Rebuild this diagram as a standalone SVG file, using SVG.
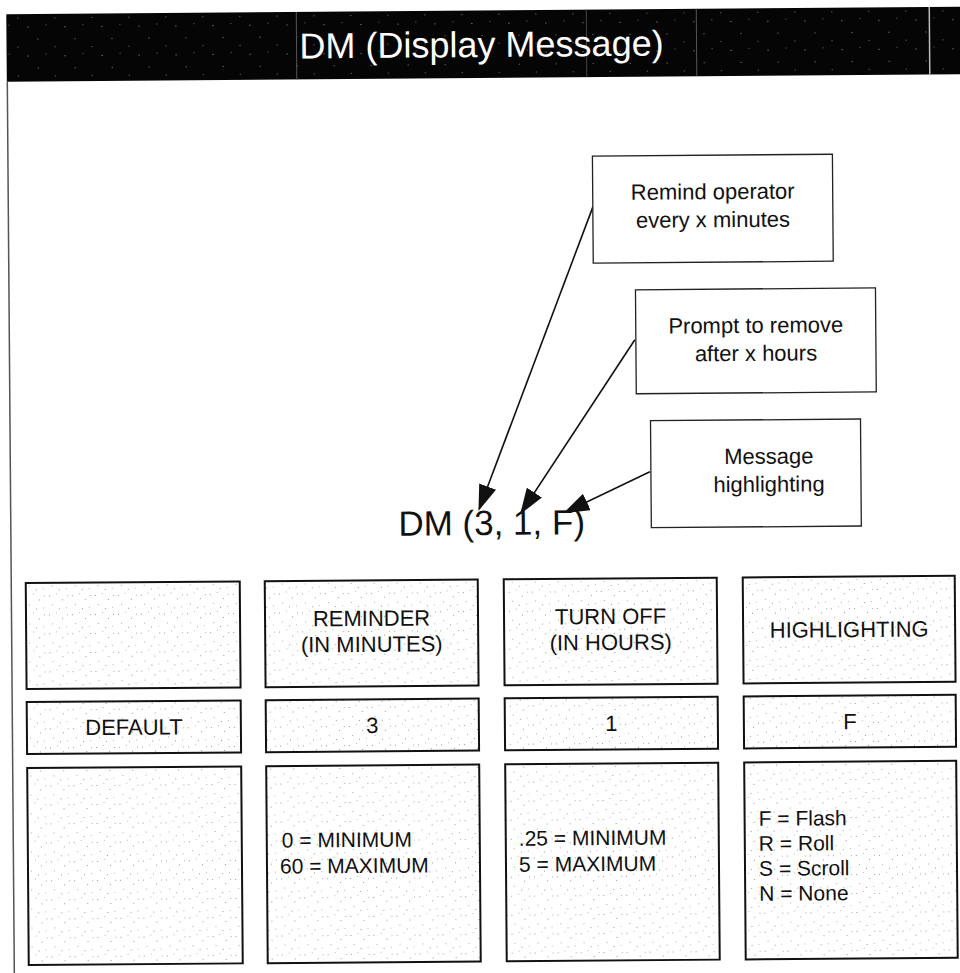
<svg xmlns="http://www.w3.org/2000/svg" width="960" height="973" viewBox="0 0 960 973">
<style>
  text { font-family: "Liberation Sans", Arial, sans-serif; fill: #111; }
  .title { font-size: 36px; fill: #fff; text-anchor: middle; }
  .big { font-size: 35px; }
  .call { font-size: 22px; text-anchor: middle; }
  .cell { font-size: 22px; text-anchor: middle; }
  .lst { font-size: 21px; }
  .callbox { fill: #fff; stroke: #222; stroke-width: 1.3; }
  .tbox { fill: url(#grain); stroke: #111; stroke-width: 2; }
  .conn { stroke: #111; stroke-width: 1.6; fill: none; marker-end: url(#ah); }
</style>
<defs>
  <pattern id="grain" width="23" height="19" patternUnits="userSpaceOnUse">
    <rect width="23" height="19" fill="#fff"/>
    <rect x="2" y="3" width="1" height="1" fill="#999"/>
    <rect x="9" y="1" width="1" height="1" fill="#bbb"/>
    <rect x="15" y="7" width="1" height="1" fill="#999"/>
    <rect x="5" y="12" width="1" height="1" fill="#aaa"/>
    <rect x="19" y="15" width="1" height="1" fill="#bbb"/>
    <rect x="12" y="16" width="1" height="1" fill="#999"/>
    <rect x="20" y="3" width="1" height="1" fill="#aaa"/>
  </pattern>
  <pattern id="speck" width="37" height="29" patternUnits="userSpaceOnUse">
    <rect width="37" height="29" fill="#050505"/>
    <rect x="4" y="6" width="1" height="1" fill="#888"/>
    <rect x="21" y="14" width="1" height="1" fill="#777"/>
    <rect x="31" y="23" width="1" height="1" fill="#999"/>
    <rect x="12" y="21" width="1" height="1" fill="#666"/>
  </pattern>
  <marker id="ah" markerUnits="userSpaceOnUse" markerWidth="26" markerHeight="18" viewBox="0 0 26 18" refX="24" refY="9" orient="auto">
    <path d="M0,0 L26,9 L0,18 z" fill="#111"/>
  </marker>
</defs>
<rect width="960" height="973" fill="#fff"/>
<g transform="rotate(-0.45 480 486)">
  <g id="header">
    <rect x="10" y="10.5" width="960" height="67.5" fill="url(#speck)"/>
    <line x1="300" y1="10.5" x2="300" y2="78" stroke="#555" stroke-width="1"/>
    <line x1="590" y1="10.5" x2="590" y2="78" stroke="#444" stroke-width="1"/>
    <line x1="700" y1="10.5" x2="700" y2="78" stroke="#555" stroke-width="1"/>
    <line x1="933" y1="10.5" x2="933" y2="78" stroke="#bbb" stroke-width="1.5"/>
    <text class="title" x="485" y="57">DM (Display Message)</text>
  </g>
  <line id="page-edge" x1="10.5" y1="78" x2="10.5" y2="990" stroke="#555" stroke-width="1.5"/>

  <g id="connectors">
    <line class="conn" x1="595" y1="208" x2="479" y2="509"/>
    <line class="conn" x1="636" y1="341" x2="521" y2="513"/>
    <line class="conn" x1="650" y1="473" x2="565" y2="513"/>
  </g>

  <g id="callout-remind">
    <rect class="callbox" x="595" y="157" width="240" height="107"/>
    <text class="call" x="715" y="201">Remind operator</text>
    <text class="call" x="715" y="229">every x minutes</text>
  </g>
  <g id="callout-prompt">
    <rect class="callbox" x="637" y="291" width="240" height="104"/>
    <text class="call" x="757" y="335">Prompt to remove</text>
    <text class="call" x="757" y="363">after x  hours</text>
  </g>
  <g id="callout-message">
    <rect class="callbox" x="651" y="422" width="210" height="107"/>
    <text class="call" x="769" y="466">Message</text>
    <text class="call" x="769" y="494">highlighting</text>
  </g>

  <g id="command">
    <text class="big" x="398" y="535">DM (3, 1, F)</text>
  </g>

  <g id="cell-blank-top">
    <rect class="tbox" x="25" y="579.5" width="214" height="106"/>
  </g>
  <g id="cell-reminder">
    <rect class="tbox" x="264" y="579.5" width="213" height="106"/>
    <text class="cell" x="370.5" y="625">REMINDER</text>
    <text class="cell" x="370.5" y="651">(IN MINUTES)</text>
  </g>
  <g id="cell-turnoff">
    <rect class="tbox" x="503" y="579.5" width="213" height="106"/>
    <text class="cell" x="609.5" y="625">TURN OFF</text>
    <text class="cell" x="609.5" y="651">(IN HOURS)</text>
  </g>
  <g id="cell-highlighting">
    <rect class="tbox" x="742" y="579.5" width="212" height="106"/>
    <text class="cell" x="848" y="640">HIGHLIGHTING</text>
  </g>

  <g id="cell-default">
    <rect class="tbox" x="25" y="698.5" width="214" height="52"/>
    <text class="cell" x="132" y="732">DEFAULT</text>
  </g>
  <g id="cell-3">
    <rect class="tbox" x="264" y="698.5" width="213" height="52"/>
    <text class="cell" x="370.5" y="732">3</text>
  </g>
  <g id="cell-1">
    <rect class="tbox" x="503" y="698.5" width="213" height="52"/>
    <text class="cell" x="609.5" y="732">1</text>
  </g>
  <g id="cell-F">
    <rect class="tbox" x="742" y="698.5" width="212" height="52"/>
    <text class="cell" x="848" y="732">F</text>
  </g>

  <g id="cell-blank-bottom">
    <rect class="tbox" x="25" y="764.5" width="214" height="197"/>
  </g>
  <g id="cell-reminder-range">
    <rect class="tbox" x="264" y="764.5" width="213" height="197"/>
    <text class="lst" x="279" y="846">0 = MINIMUM</text>
    <text class="lst" x="277" y="872">60 = MAXIMUM</text>
  </g>
  <g id="cell-turnoff-range">
    <rect class="tbox" x="503" y="764.5" width="213" height="197"/>
    <text class="lst" x="516" y="846">.25 = MINIMUM</text>
    <text class="lst" x="516" y="872">5 = MAXIMUM</text>
  </g>
  <g id="cell-highlight-options">
    <rect class="tbox" x="742" y="764.5" width="212" height="197"/>
    <text class="lst" x="756" y="828">F = Flash</text>
    <text class="lst" x="756" y="853">R = Roll</text>
    <text class="lst" x="756" y="878">S = Scroll</text>
    <text class="lst" x="756" y="903">N = None</text>
  </g>
</g>
</svg>
